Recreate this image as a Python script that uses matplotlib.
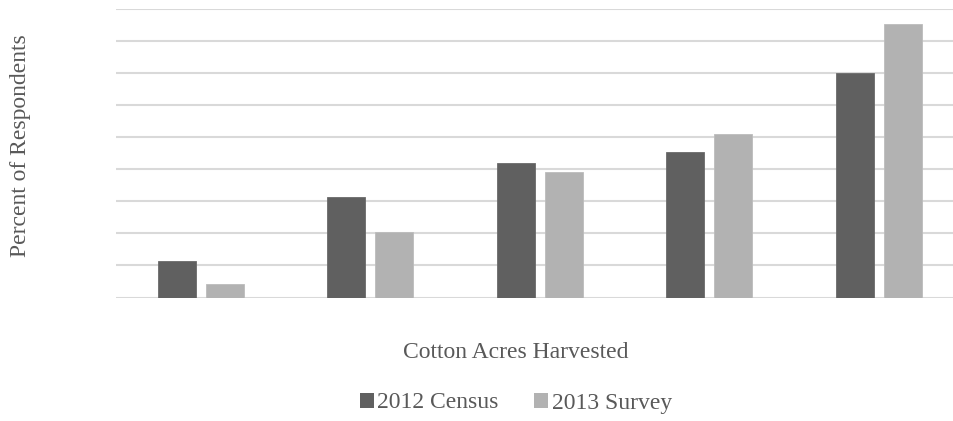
import matplotlib
matplotlib.use("Agg")
import matplotlib.pyplot as plt
from matplotlib.patches import Patch
import numpy as np

# Share of respondents by harvested-acre class (percent)
categories = ["1", "2", "3", "4", "5"]
census_2012 = [5.7, 15.6, 20.9, 22.6, 35.0]
survey_2013 = [2.1, 10.2, 19.5, 25.5, 42.6]
series_names = ["2012 Census", "2013 Survey"]

dark = "#606060"
light = "#b2b2b2"
text_color = "#595959"
grid_color = "#d9d9d9"

plt.rcParams["font.family"] = ["Liberation Serif", "DejaVu Serif"]

W, H = 954, 421
fig = plt.figure(figsize=(W / 100, H / 100), dpi=100)
ax = fig.add_axes([116 / W, (H - 297.5) / H, 847.5 / W, 289 / H])

x = np.arange(len(categories))
bw = 0.224
off = 0.1416
ax.bar(x - off, census_2012, width=bw, color=dark, edgecolor="#6a6a6a", linewidth=0.6, zorder=3)
ax.bar(x + off, survey_2013, width=bw, color=light, edgecolor="#bcbcbc", linewidth=0.6, zorder=3)

ax.set_xlim(-0.5, len(categories) - 0.5)
ax.set_ylim(0, 45)
ax.set_yticks(np.arange(0, 46, 5))
ax.yaxis.grid(True, color=grid_color, linewidth=1.5, zorder=0)
ax.set_axisbelow(True)
ax.tick_params(left=False, bottom=False, labelleft=False, labelbottom=False)
for s in ax.spines.values():
    s.set_visible(False)

fs = 17
fig.text(21 / W, 1 - 146 / H, "Percent of Respondents", rotation=90,
         ha="center", va="center", fontsize=fs, color=text_color)
fig.text(516 / W, 1 - 353 / H, "Cotton Acres Harvested",
         ha="center", va="center", fontsize=fs, color=text_color)

handles = [Patch(facecolor=dark, edgecolor="none"), Patch(facecolor=light, edgecolor="none")]
fig.legend(handles, series_names, loc="center", bbox_to_anchor=(516 / W, 1 - 403 / H),
           ncol=2, frameon=False, handlelength=0.58, handleheight=0.58,
           handletextpad=0.15, columnspacing=1.5, fontsize=fs,
           labelcolor=text_color, borderpad=0, borderaxespad=0)

fig.savefig("out.png", dpi=100)
